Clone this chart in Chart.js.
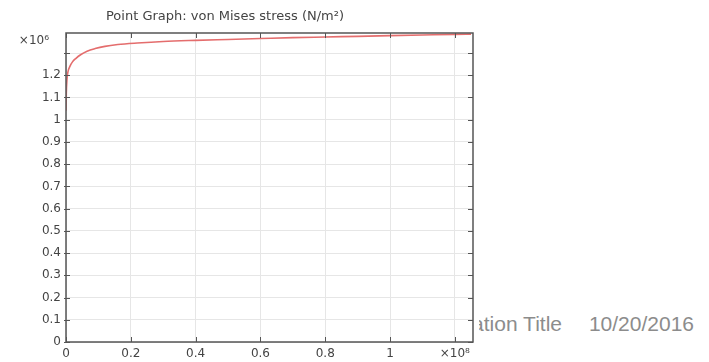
<!DOCTYPE html>
<html>
<head>
<meta charset="utf-8">
<script src="https://cdn.jsdelivr.net/npm/chart.js@4/dist/chart.umd.min.js"></script>
<style>
    body { margin: 0; background: #fff; width: 709px; height: 362px; overflow: hidden; position: relative; }
    .slide { position: absolute; top: 312px; left: 0; text-align: right; font-family: "Liberation Sans", Arial, sans-serif; font-size: 21px; color: #8c8c8c; white-space: pre; }
    .wrap { position: absolute; left: 0; top: 0; width: 479px; height: 362px; background: #fff; }
</style>
</head>
<body>
<div class="slide" style="width: 562px;">Presentation Title</div>
<div class="slide" style="width: 694px;">10/20/2016</div>
<div class="wrap"><canvas id="graphCanvas"></canvas></div>
<script>
// time axis values and von Mises stress (N/m^2)
var timeValues = [0, 0.001e8, 0.003e8, 0.006e8, 0.012e8, 0.02e8, 0.03e8, 0.045e8, 0.065e8, 0.09e8, 0.12e8, 0.16e8,
    0.22e8, 0.3e8, 0.4e8, 0.5e8, 0.6e8, 0.7e8, 0.8e8, 0.9e8, 1.0e8, 1.1e8, 1.2e8, 1.25e8];
var stressValues = [1.04e6, 1.12e6, 1.18e6, 1.215e6, 1.24e6, 1.26e6, 1.275e6, 1.292e6, 1.308e6, 1.32e6, 1.33e6, 1.338e6,
    1.345e6, 1.352e6, 1.357e6, 1.361e6, 1.365e6, 1.369e6, 1.372e6, 1.375e6, 1.378e6, 1.381e6, 1.384e6, 1.385e6];
var xTicks = [0, 0.2e8, 0.4e8, 0.6e8, 0.8e8, 1.0e8, 1.2e8];
var xTickLabels = ["0", "0.2", "0.4", "0.6", "0.8", "1", "\u00d710\u2078"];
var yTicks = [0, 0.1e6, 0.2e6, 0.3e6, 0.4e6, 0.5e6, 0.6e6, 0.7e6, 0.8e6, 0.9e6, 1.0e6, 1.1e6, 1.2e6, 1.3e6];
var yTickLabels = ["0", "0.1", "0.2", "0.3", "0.4", "0.5", "0.6", "0.7", "0.8", "0.9", "1", "1.1", "1.2", ""];
var titleText = "Point Graph: von Mises stress (N/m\u00b2)";

var textColor = "#444";
var font = "DejaVu Sans";

// frame with inward ticks, comsol style, plus title and exponent
var framePlugin = {
    id: "frame",
    afterDraw: function (chart) {
        var ctx = chart.ctx;
        var a = chart.chartArea;
        var xs = chart.scales.x, ys = chart.scales.y;
        ctx.save();
        ctx.strokeStyle = "#555";
        ctx.lineWidth = 1.5;
        ctx.strokeRect(a.left, a.top, a.right - a.left, a.bottom - a.top);
        ctx.lineWidth = 1;
        ctx.beginPath();
        xTicks.forEach(function (v) {
            var px = Math.round(xs.getPixelForValue(v)) + 0.5;
            ctx.moveTo(px, a.bottom); ctx.lineTo(px, a.bottom - 5);
            ctx.moveTo(px, a.top); ctx.lineTo(px, a.top + 5);
        });
        yTicks.forEach(function (v) {
            var py = Math.round(ys.getPixelForValue(v)) + 0.5;
            ctx.moveTo(a.left - 2, py); ctx.lineTo(a.left + 4, py);
            ctx.moveTo(a.right, py); ctx.lineTo(a.right - 5, py);
        });
        ctx.stroke();
        ctx.fillStyle = textColor;
        ctx.textBaseline = "middle";
        ctx.font = "12px " + font;
        ctx.textAlign = "right";
        ctx.fillText("\u00d710\u2076", a.left - 17, a.top + 8);
        ctx.font = "13px " + font;
        ctx.textAlign = "center";
        ctx.fillText(titleText, 225, 17);
        ctx.restore();
    }
};

var ctx = document.getElementById("graphCanvas");

var chart1 = new Chart(ctx, {
    type: "line",
    data: {
        datasets: [{
            label: "von Mises stress",
            data: timeValues.map(function (t, i) { return { x: t, y: stressValues[i] }; }),
            borderColor: "#e46d6d",
            borderWidth: 1.6,
            pointRadius: 0,
            cubicInterpolationMode: "monotone",
            fill: false
        }]
    },
    options: {
        responsive: true,
        maintainAspectRatio: false,
        animation: false,
        layout: { padding: { left: 0, right: 6, top: 33, bottom: 0 } },
        plugins: {
            legend: { display: false },
            tooltip: { enabled: false },
            title: { display: false }
        },
        scales: {
            x: {
                type: "linear",
                min: 0,
                max: 1.256e8,
                afterBuildTicks: function (scale) {
                    scale.ticks = xTicks.map(function (v) { return { value: v }; });
                },
                afterFit: function (scale) { scale.height = 20; },
                border: { display: false },
                grid: { color: "#e6e6e6", drawTicks: false },
                ticks: {
                    color: textColor,
                    font: { family: font, size: 12 },
                    padding: 5,
                    maxRotation: 0,
                    autoSkip: false,
                    callback: function (v) {
                        var i = xTicks.indexOf(v);
                        return i >= 0 ? xTickLabels[i] : "";
                    }
                }
            },
            y: {
                type: "linear",
                min: 0,
                max: 1.39e6,
                afterBuildTicks: function (scale) {
                    scale.ticks = yTicks.map(function (v) { return { value: v }; });
                },
                afterFit: function (scale) { scale.width = 66; },
                border: { display: false },
                grid: { color: "#e6e6e6", drawTicks: false },
                ticks: {
                    color: textColor,
                    font: { family: font, size: 12 },
                    padding: 5,
                    autoSkip: false,
                    callback: function (v) {
                        var i = yTicks.indexOf(v);
                        return i >= 0 ? yTickLabels[i] : "";
                    }
                }
            }
        }
    },
    plugins: [framePlugin]
});
</script>
</body>
</html>
